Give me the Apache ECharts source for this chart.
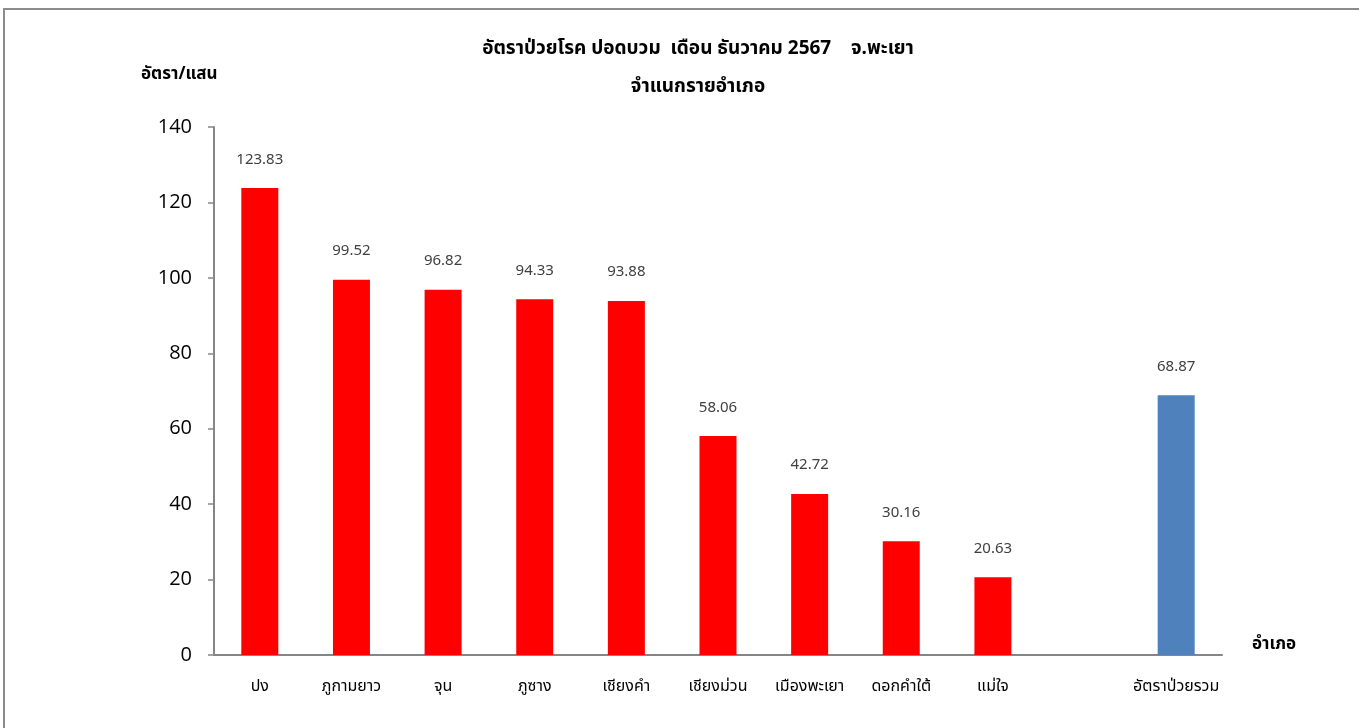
<!DOCTYPE html>
<html>
<head>
<meta charset="utf-8">
<script src="https://cdn.jsdelivr.net/npm/echarts@6/dist/echarts.min.js"></script>
<style>
  html, body { margin: 0; padding: 0; background: #fff; }
  #frame { position: absolute; left: 3px; top: 8px; width: 1356px; height: 720px;
           border-top: 2px solid #8c8c8c; border-left: 2px solid #8c8c8c; box-sizing: border-box; }
  #chart { width: 1359px; height: 728px; }
</style>
</head>
<body>
<div id="frame"></div>
<div id="chart"></div>
<script>
  // อำเภอ
  var districts = ['ปง', 'ภูกามยาว', 'จุน', 'ภูซาง', 'เชียงคำ', 'เชียงม่วน', 'เมืองพะเยา', 'ดอกคำใต้', 'แม่ใจ', '', 'อัตราป่วยรวม'];
  var rates = [123.83, 99.52, 96.82, 94.33, 93.88, 58.06, 42.72, 30.16, 20.63, null, 68.87];
  var yTicks = [0, 20, 40, 60, 80, 100, 120, 140];

  var FONT = 'Tahoma, "Noto Sans Thai", "Noto Sans", sans-serif';
  var chart = echarts.init(document.getElementById('chart'));

  var option = {
    backgroundColor: 'transparent',
    animation: false,
    title: [{
      text: 'อัตราป่วยโรค ปอดบวม  เดือน ธันวาคม 2567    จ.พะเยา',
      left: 693, top: 36, textAlign: 'center',
      textStyle: { fontFamily: FONT, fontSize: 19, fontWeight: 'bold', color: '#000' }
    }, {
      text: 'จำแนกรายอำเภอ',
      left: 693, top: 74, textAlign: 'center',
      textStyle: { fontFamily: FONT, fontSize: 19, fontWeight: 'bold', color: '#000' }
    }, {
      text: 'อัตรา/แสน',
      left: 136, top: 62,
      textStyle: { fontFamily: FONT, fontSize: 17, fontWeight: 'bold', color: '#000' }
    }, {
      text: 'อำเภอ',
      left: 1247, top: 632,
      textStyle: { fontFamily: FONT, fontSize: 17, fontWeight: 'bold', color: '#000' }
    }],
    grid: { left: 214, right: 137, top: 127, bottom: 73 },
    xAxis: {
      type: 'category',
      data: districts,
      axisLine: { lineStyle: { color: '#868686', width: 2 } },
      axisTick: { show: false },
      axisLabel: { interval: 0, fontFamily: FONT, fontSize: 16, color: '#000', margin: 25 }
    },
    yAxis: {
      type: 'value',
      min: yTicks[0], max: yTicks[yTicks.length - 1], interval: 20,
      axisLine: { show: true, lineStyle: { color: '#868686', width: 2 } },
      axisTick: { show: true, length: 6, lineStyle: { color: '#868686', width: 1.5 } },
      splitLine: { show: false },
      axisLabel: { fontFamily: '"Open Sans", sans-serif', fontSize: 20, color: '#000', margin: 22 }
    },
    series: [{
      type: 'bar',
      barWidth: 37,
      data: rates.map(function (v, i) {
        return {
          value: v,
          itemStyle: { color: districts[i] === 'อัตราป่วยรวม' ? '#4f81bd' : '#ff0000' }
        };
      }),
      label: {
        show: true, position: 'top', distance: 20,
        fontFamily: FONT, fontSize: 15, color: '#404040',
        formatter: function (p) { return p.value == null ? '' : p.value.toFixed(2); }
      }
    }]
  };

  chart.setOption(option);
</script>
</body>
</html>
